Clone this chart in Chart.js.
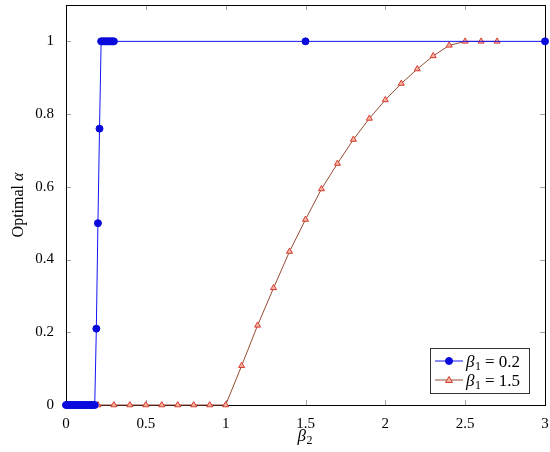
<!DOCTYPE html>
<html>
<head>
<meta charset="utf-8">
<script src="https://cdn.jsdelivr.net/npm/chart.js@4/dist/chart.umd.min.js"></script>
<style>
  body { margin: 0; background: #fff; }
  #wrap { width: 550px; height: 452px; }
</style>
</head>
<body>
<div id="wrap"><canvas id="optChart"></canvas></div>
<script>
'use strict';

// beta_1 = 0.2
const blueX = [0, 0.01, 0.02, 0.03, 0.04, 0.05, 0.06, 0.07, 0.08, 0.09, 0.1, 0.11, 0.12, 0.13, 0.14, 0.15, 0.16, 0.17, 0.18,
               0.19, 0.2, 0.21, 0.22, 0.23, 0.24, 0.25, 0.26, 0.27, 0.28, 0.29, 0.3, 1.5, 3];
const blueY = [0, 0, 0, 0, 0, 0, 0, 0, 0, 0, 0, 0, 0, 0, 0, 0, 0, 0, 0,
               0.21, 0.5, 0.76, 1, 1, 1, 1, 1, 1, 1, 1, 1, 1, 1];

// beta_1 = 1.5
const redX = [0, 0.1, 0.2, 0.3, 0.4, 0.5, 0.6, 0.7, 0.8, 0.9, 1.0, 1.1, 1.2, 1.3, 1.4, 1.5, 1.6, 1.7, 1.8,
              1.9, 2.0, 2.1, 2.2, 2.3, 2.4, 2.5, 2.6, 2.7];
const redY = [0, 0, 0, 0, 0, 0, 0, 0, 0, 0, 0, 0.108, 0.219, 0.322, 0.422, 0.51, 0.594, 0.664, 0.73,
              0.788, 0.839, 0.884, 0.924, 0.96, 0.989, 1.0, 1.0, 1.0];

const seriesLabels = ['β₁ = 0.2', 'β₁ = 1.5'];
const legendValues = ['0.2', '1.5'];
const xTicks = [0, 0.5, 1, 1.5, 2, 2.5, 3];
const yTicks = [0, 0.2, 0.4, 0.6, 0.8, 1];

const serif = "'Liberation Serif', 'DejaVu Serif', serif";

function toPoints(xs, ys) {
  let pts = [];
  for (let i = 0; i < xs.length; i++) pts.push({x: xs[i], y: ys[i]});
  return pts;
}

// β with a subscript, drawn from x; returns the x after it
function drawBeta(ctx, sub, x, base, size) {
  ctx.font = 'italic ' + size + 'px ' + serif;
  ctx.fillText('β', x, base);
  x += ctx.measureText('β').width + 0.5;
  ctx.font = Math.round(size * 0.7) + 'px ' + serif;
  ctx.fillText(sub, x, base + 3);
  return x + ctx.measureText(sub).width;
}

// box frame, inward ticks on all sides, axis titles, legend in the lower right
const framePlugin = {
  id: 'frame',
  beforeDatasetsDraw(chart) {
    const ctx = chart.ctx;
    const a = chart.chartArea;
    const xs = chart.scales.x, ys = chart.scales.y;
    ctx.save();
    ctx.strokeStyle = '#8c8c8c';
    ctx.lineWidth = 0.8;
    ctx.beginPath();
    xTicks.forEach(v => {
      const px = Math.round(xs.getPixelForValue(v)) + 0.5;
      ctx.moveTo(px, a.bottom); ctx.lineTo(px, a.bottom - 5);
      ctx.moveTo(px, a.top); ctx.lineTo(px, a.top + 5);
    });
    yTicks.forEach(v => {
      const py = Math.round(ys.getPixelForValue(v)) + 0.5;
      ctx.moveTo(a.left, py); ctx.lineTo(a.left + 5, py);
      ctx.moveTo(a.right, py); ctx.lineTo(a.right - 5, py);
    });
    ctx.stroke();
    ctx.strokeStyle = '#000';
    ctx.lineWidth = 1;
    ctx.strokeRect(a.left + 0.5, a.top + 0.5, a.right - a.left, a.bottom - a.top);

    // axis titles
    ctx.fillStyle = '#000';
    ctx.textBaseline = 'alphabetic';
    const midX = (a.left + a.right) / 2;
    drawBeta(ctx, '2', midX - 8, 441, 17);

    ctx.translate(23, (a.top + a.bottom) / 2);
    ctx.rotate(-Math.PI / 2);
    ctx.font = '16px ' + serif;
    const w1 = ctx.measureText('Optimal ').width;
    ctx.font = 'italic 16px ' + serif;
    const w2 = ctx.measureText('α').width;
    let tx = -(w1 + w2) / 2;
    ctx.font = '16px ' + serif;
    ctx.fillText('Optimal ', tx, 0);
    ctx.font = 'italic 16px ' + serif;
    ctx.fillText('α', tx + w1, 0);
    ctx.restore();
  },
  afterDraw(chart) {
    const ctx = chart.ctx;
    const a = chart.chartArea;
    const w = 99, h = 45;
    const bx = a.right - 16 - w, by = a.bottom - 12 - h;
    ctx.save();
    ctx.fillStyle = '#fff';
    ctx.fillRect(bx, by, w, h);
    ctx.strokeStyle = '#333';
    ctx.lineWidth = 1;
    ctx.strokeRect(bx + 0.5, by + 0.5, w, h);
    chart.data.datasets.forEach((ds, i) => {
      const cy = by + 13 + i * 19;
      ctx.strokeStyle = ds.borderColor;
      ctx.lineWidth = 1;
      ctx.beginPath();
      ctx.moveTo(bx + 5, cy); ctx.lineTo(bx + 33, cy);
      ctx.stroke();
      ctx.fillStyle = ds.pointBackgroundColor;
      ctx.strokeStyle = ds.pointBorderColor;
      ctx.beginPath();
      if (ds.pointStyle === 'triangle') {
        ctx.moveTo(bx + 19, cy - 3.5);
        ctx.lineTo(bx + 22.5, cy + 2.5);
        ctx.lineTo(bx + 15.5, cy + 2.5);
        ctx.closePath();
      } else {
        ctx.arc(bx + 19, cy, 3.5, 0, Math.PI * 2);
      }
      ctx.fill();
      ctx.stroke();
      ctx.fillStyle = '#000';
      ctx.textBaseline = 'alphabetic';
      const base = cy + 6;
      let tx = drawBeta(ctx, '1', bx + 36, base, 17) + 4;
      ctx.font = '17px ' + serif;
      ctx.fillText('= ' + legendValues[i], tx, base);
    });
    ctx.restore();
  }
};

new Chart(document.getElementById('optChart').getContext('2d'), {
  type: 'line',
  data: {
    datasets: [{
      label: seriesLabels[0],
      data: toPoints(blueX, blueY),
      borderColor: 'rgb(20,20,245)',
      backgroundColor: 'rgb(10,10,220)',
      pointBackgroundColor: 'rgb(10,10,220)',
      pointBorderColor: 'rgb(10,10,220)',
      pointStyle: 'circle',
      pointRadius: 3.5,
      borderWidth: 1,
      clip: false
    }, {
      label: seriesLabels[1],
      data: toPoints(redX, redY),
      borderColor: 'rgb(150,75,50)',
      backgroundColor: 'rgb(245,180,160)',
      pointBackgroundColor: 'rgb(245,180,160)',
      pointBorderColor: 'rgb(215,60,50)',
      pointStyle: 'triangle',
      pointRadius: 3.5,
      pointBorderWidth: 1,
      borderWidth: 1,
      clip: false
    }]
  },
  options: {
    responsive: true,
    maintainAspectRatio: false,
    animation: false,
    layout: { padding: { top: 4, right: 5, left: 0, bottom: 0 } },
    plugins: {
      legend: { display: false },
      tooltip: { enabled: false }
    },
    elements: { line: { tension: 0 } },
    scales: {
      x: {
        type: 'linear',
        min: 0,
        max: 3,
        grid: { display: false },
        border: { display: false },
        afterBuildTicks: (scale) => { scale.ticks = xTicks.map(v => ({value: v})); },
        afterFit: (scale) => { scale.height = 47; scale.paddingLeft = 0; scale.paddingRight = 0; },
        ticks: {
          color: '#000',
          padding: 2,
          maxRotation: 0,
          font: { family: serif, size: 15 },
          callback: (v) => String(v)
        }
      },
      y: {
        type: 'linear',
        min: 0,
        max: 1.1,
        grid: { display: false },
        border: { display: false },
        afterBuildTicks: (scale) => { scale.ticks = yTicks.map(v => ({value: v})); },
        afterFit: (scale) => { scale.width = 66; scale.paddingTop = 0; scale.paddingBottom = 0; },
        ticks: {
          color: '#000',
          padding: 4,
          font: { family: serif, size: 15 },
          callback: (v) => String(v)
        }
      }
    }
  },
  plugins: [framePlugin]
});
</script>
</body>
</html>
